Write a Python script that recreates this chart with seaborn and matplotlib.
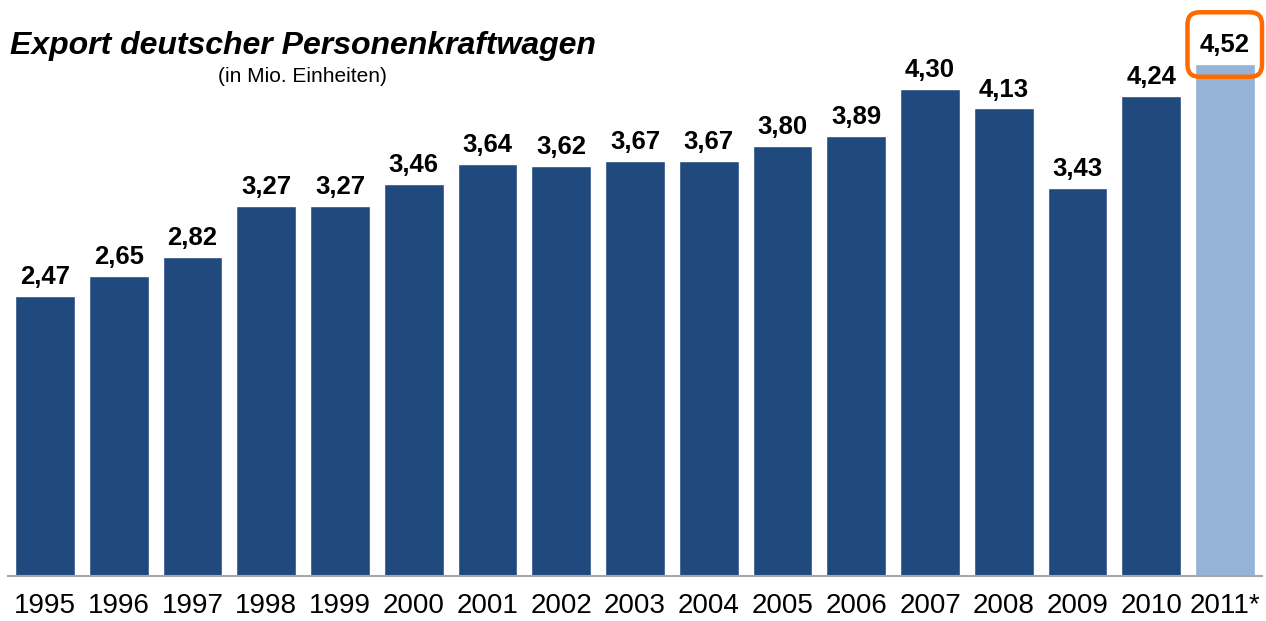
import matplotlib
matplotlib.use("Agg")
import matplotlib.pyplot as plt
import seaborn as sns
import pandas as pd
from matplotlib.patches import FancyBboxPatch
from matplotlib.transforms import IdentityTransform

# === Data ===
years = ["1995", "1996", "1997", "1998", "1999", "2000", "2001", "2002", "2003",
         "2004", "2005", "2006", "2007", "2008", "2009", "2010", "2011*"]
exports = [2.47, 2.65, 2.82, 3.27, 3.27, 3.46, 3.64, 3.62, 3.67,
           3.67, 3.80, 3.89, 4.30, 4.13, 3.43, 4.24, 4.52]
bar_colors = ["#204A7E"] * 16 + ["#95B3D7"]

df = pd.DataFrame({"year": years, "export": exports})

sns.set_style("white")
plt.rcParams["font.family"] = ["Liberation Sans", "DejaVu Sans"]
plt.rcParams["text.color"] = "black"

fig = plt.figure(figsize=(12.66, 6.21), dpi=100)
ax = fig.add_axes([8 / 1266, 45 / 621, 1254 / 1266, 576 / 621])

sns.barplot(data=df, x="year", y="export", hue="year", palette=bar_colors,
            legend=False, width=0.81, saturation=1, ax=ax)

ax.set_xlim(-0.5, len(years) - 0.5)
ax.set_ylim(0, 576 / 113.2)

# value labels with German decimal comma
for cont, v in zip(ax.containers, exports):
    ax.bar_label(cont, labels=[f"{v:.2f}".replace(".", ",")], padding=5,
                 fontsize=18.5, fontweight="bold", color="black")

# axis styling
sns.despine(ax=ax, left=True, top=True, right=True)
ax.spines["bottom"].set_color("#A6A6A6")
ax.spines["bottom"].set_linewidth(1.5)
ax.set_yticks([])
ax.set_xlabel("")
ax.set_ylabel("")
ax.tick_params(axis="x", length=0, labelsize=20, pad=12.5, colors="black")

# titles
fig.text(10 / 1266, 1 - 46 / 621, "Export deutscher Personenkraftwagen",
         fontsize=23, fontweight="bold", fontstyle="italic", va="center", ha="left",
         color="black")
fig.text(218 / 1266, 1 - 77 / 621, "(in Mio. Einheiten)",
         fontsize=15, va="center", ha="left", color="black")

# orange highlight box around the 2011 value
fig.canvas.draw()
x0, y0 = ax.transData.transform((15.49, 4.41))
x1, y1 = ax.transData.transform((16.5, 4.98))
box = FancyBboxPatch((x0 + 12, y0 + 12), (x1 - x0) - 24, (y1 - y0) - 24,
                     boxstyle="round,pad=12,rounding_size=12",
                     transform=IdentityTransform(), fill=False,
                     edgecolor="#FF6A00", linewidth=3.2, clip_on=False)
fig.patches.append(box)

fig.savefig("out.png", dpi=100)
